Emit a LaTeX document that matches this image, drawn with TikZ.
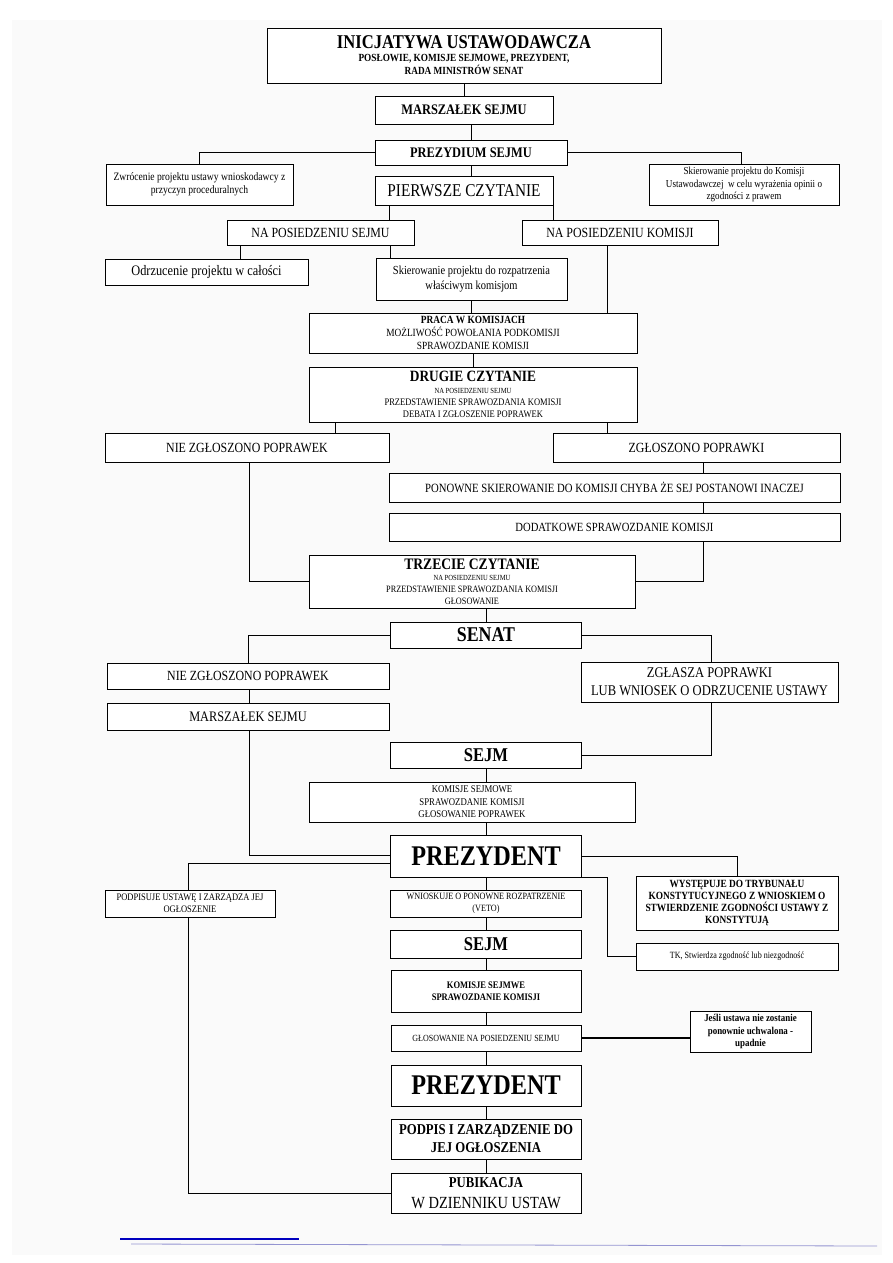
\documentclass[tikz,border=0pt]{standalone}
\usepackage{fontspec}
\setmainfont{Liberation Serif}[FakeStretch=0.85]
\usepackage{tikz}
\usetikzlibrary{calc}
\usetikzlibrary{shadows}
\newcommand{\rozmiar}[1]{\fontsize{#1pt}{\dimexpr #1pt*12/10\relax}\selectfont}
\tikzset{
  ramka/.style={draw,line width=0.9pt,fill=white,align=center,inner sep=1pt,
    drop shadow={shadow xshift=0.9pt,shadow yshift=-0.9pt,fill=black,opacity=1}},
  linia/.style={line width=0.8pt},
}

\begin{document}
\begin{tikzpicture}[x=1pt,y=-1pt]
	\useasboundingbox (0,0) rectangle (893,1263);
	\fill[black!2] (12,20) rectangle (882,1255);
	\draw[blue!40!gray!60,line width=0.8pt] (131,1244) -- (877,1246);
	\draw[blue!75!black,line width=1.8pt] (120,1239) -- (299,1239);

	\node[ramka,minimum width=394pt,minimum height=55pt,font=\rozmiar{10.9}\bfseries] (inicjatywa) at (464,55.5) {{\rozmiar{19.5}INICJATYWA USTAWODAWCZA}\\POSŁOWIE, KOMISJE SEJMOWE, PREZYDENT,\\RADA MINISTRÓW SENAT};
	\node[ramka,minimum width=178pt,minimum height=28pt,font=\rozmiar{14.6}\bfseries] (marszalek) at (464,110) {MARSZAŁEK SEJMU};
	\node[ramka,minimum width=192pt,minimum height=25pt,font=\rozmiar{14.6}\bfseries] (prezydium) at (471,152.5) {PREZYDIUM SEJMU};
	\node[ramka,minimum width=187pt,minimum height=41pt,font=\rozmiar{11.3}] (zwrocenie) at (199.5,184.5) {Zwrócenie projektu ustawy wnioskodawcy z\\przyczyn proceduralnych};
	\node[ramka,minimum width=178pt,minimum height=29pt,font=\rozmiar{18}] (pierwsze) at (464,190.5) {PIERWSZE CZYTANIE};
	\node[ramka,minimum width=190pt,minimum height=41pt,font=\rozmiar{10.7}] (komUst) at (744,184.5) {Skierowanie projektu do Komisji\\Ustawodawczej\ \ w celu wyrażenia opinii o\\zgodności z prawem};
	\node[ramka,minimum width=187pt,minimum height=25pt,font=\rozmiar{14}] (naSejmu) at (320.5,232.5) {NA POSIEDZENIU SEJMU};
	\node[ramka,minimum width=196pt,minimum height=25pt,font=\rozmiar{14}] (naKomisji) at (620,232.5) {NA POSIEDZENIU KOMISJI};
	\node[ramka,minimum width=203pt,minimum height=26pt,font=\rozmiar{14.5}] (odrzucenie) at (206.5,272) {Odrzucenie projektu w całości};
	\node[ramka,minimum width=191pt,minimum height=42pt,font=\rozmiar{12.3}] (skierowanie) at (471.5,279) {Skierowanie projektu do rozpatrzenia\\właściwym komisjom};
	\node[ramka,minimum width=328pt,minimum height=40pt,font=\rozmiar{11}] (praca) at (473,333) {{\bfseries PRACA W KOMISJACH}\\MOŻLIWOŚĆ POWOŁANIA PODKOMISJI\\SPRAWOZDANIE KOMISJI};
	\node[ramka,minimum width=328pt,minimum height=55pt,font=\rozmiar{10}] (drugie) at (473,394.5) {{\rozmiar{15.7}\bfseries DRUGIE CZYTANIE}\\{\rozmiar{7.8}NA POSIEDZENIU SEJMU}\\PRZEDSTAWIENIE SPRAWOZDANIA KOMISJI\\DEBATA I ZGŁOSZENIE POPRAWEK};
	\node[ramka,minimum width=284pt,minimum height=29pt,font=\rozmiar{14}] (nieZgl) at (247,447.5) {NIE ZGŁOSZONO POPRAWEK};
	\node[ramka,minimum width=287pt,minimum height=29pt,font=\rozmiar{14}] (zgl) at (696.5,447.5) {ZGŁOSZONO POPRAWKI};
	\node[ramka,minimum width=451pt,minimum height=29pt,font=\rozmiar{12.6}] (ponowne) at (614.5,487.5) {PONOWNE SKIEROWANIE DO KOMISJI CHYBA ŻE SEJ POSTANOWI INACZEJ};
	\node[ramka,minimum width=451pt,minimum height=28pt,font=\rozmiar{12.5}] (dodatkowe) at (614.5,527) {DODATKOWE SPRAWOZDANIE KOMISJI};
	\node[ramka,minimum width=326pt,minimum height=53pt,font=\rozmiar{9.7}] (trzecie) at (472,581.5) {{\rozmiar{16}\bfseries TRZECIE CZYTANIE}\\{\rozmiar{7.8}NA POSIEDZENIU SEJMU}\\PRZEDSTAWIENIE SPRAWOZDANIA KOMISJI\\GŁOSOWANIE};
	\node[ramka,minimum width=191pt,minimum height=26pt,font=\rozmiar{21}\bfseries] (senat) at (486,635) {SENAT};
	\node[ramka,minimum width=282pt,minimum height=26pt,font=\rozmiar{14}] (nieZglS) at (248,676) {NIE ZGŁOSZONO POPRAWEK};
	\node[ramka,minimum width=257pt,minimum height=40pt,font=\rozmiar{14.8}] (zglasza) at (709.5,682) {ZGŁASZA POPRAWKI\\LUB WNIOSEK O ODRZUCENIE USTAWY};
	\node[ramka,minimum width=282pt,minimum height=27pt,font=\rozmiar{14.5}] (marszalekS) at (248,716.5) {MARSZAŁEK SEJMU};
	\node[ramka,minimum width=191pt,minimum height=26pt,font=\rozmiar{19.5}\bfseries] (sejm) at (486,755) {SEJM};
	\node[ramka,minimum width=326pt,minimum height=40pt,font=\rozmiar{10.3}] (komisjeS) at (472,802) {KOMISJE SEJMOWE\\SPRAWOZDANIE KOMISJI\\GŁOSOWANIE POPRAWEK};
	\node[ramka,minimum width=191pt,minimum height=42pt,font=\rozmiar{28.5}\bfseries] (prezydent) at (486,856) {PREZYDENT};
	\node[ramka,minimum width=170pt,minimum height=27pt,font=\rozmiar{10}] (podpisuje) at (190,903.5) {PODPISUJE USTAWĘ I ZARZĄDZA JEJ\\OGŁOSZENIE};
	\node[ramka,minimum width=191pt,minimum height=27pt,font=\rozmiar{9.6}] (wnioskuje) at (486,903.5) {WNIOSKUJE O PONOWNE ROZPATRZENIE\\(VETO)};
	\node[ramka,minimum width=202pt,minimum height=54pt,font=\fontsize{11pt}{12pt}\selectfont\bfseries] (wystepuje) at (737,903) {WYSTĘPUJE DO TRYBUNAŁU\\KONSTYTUCYJNEGO Z WNIOSKIEM O\\STWIERDZENIE ZGODNOŚCI USTAWY Z\\KONSTYTUJĄ};
	\node[ramka,minimum width=191pt,minimum height=28pt,font=\rozmiar{19.5}\bfseries] (sejm2) at (486,944) {SEJM};
	\node[ramka,minimum width=202pt,minimum height=27pt,font=\rozmiar{9.5}] (tk) at (737,956.5) {TK, Stwierdza zgodność lub niezgodność};
	\node[ramka,minimum width=190pt,minimum height=42pt,font=\rozmiar{10}\bfseries] (komisjeSW) at (486,991) {KOMISJE SEJMWE\\SPRAWOZDANIE KOMISJI};
	\node[ramka,minimum width=190pt,minimum height=26pt,font=\rozmiar{9.4}] (glosowanie) at (486,1038) {GŁOSOWANIE NA POSIEDZENIU SEJMU};
	\node[ramka,minimum width=121pt,minimum height=41pt,font=\rozmiar{10.5}\bfseries] (jesli) at (750.5,1031.5) {Jeśli ustawa nie zostanie\\ponownie uchwalona -\\upadnie};
	\node[ramka,minimum width=190pt,minimum height=41pt,font=\rozmiar{28.5}\bfseries] (prezydent2) at (486,1085.5) {PREZYDENT};
	\node[ramka,minimum width=190pt,minimum height=40pt,font=\rozmiar{15}\bfseries] (podpis) at (486,1139) {PODPIS I ZARZĄDZENIE DO\\JEJ OGŁOSZENIA};
	\node[ramka,minimum width=190pt,minimum height=40pt,font=\rozmiar{17}] (pubikacja) at (486,1193) {{\bfseries\rozmiar{15}PUBIKACJA}\\W DZIENNIKU USTAW};

	\draw[linia] (inicjatywa) -- (marszalek);
	\draw[linia] (prezydium.north) -- (prezydium.north |- marszalek.south);
	\draw[linia] (prezydium.south) -- (prezydium.south |- pierwsze.north);
	\draw[linia] (prezydium.west) -| (zwrocenie.north);
	\draw[linia] (prezydium.east) -| ([xshift=-3pt]komUst.north);
	\draw[linia] ([xshift=15pt]pierwsze.south west) -- ([xshift=15pt]pierwsze.south west |- naSejmu.north);
	\draw[linia] (pierwsze.south east) -- (pierwsze.south east |- naKomisji.north);
	\draw[linia] ([xshift=14pt]naSejmu.south west) -- ([xshift=14pt]naSejmu.south west |- odrzucenie.north);
	\draw[linia] ([xshift=-24pt]naSejmu.south east) -- ([xshift=-24pt]naSejmu.south east |- skierowanie.north);
	\draw[linia] (skierowanie.south) -- (skierowanie.south |- praca.north);
	\draw[linia] ([xshift=-13pt]naKomisji.south) -- ([xshift=-13pt]naKomisji.south |- praca.north);
	\draw[linia] (praca) -- (drugie);
	\draw[linia] ([xshift=27pt]drugie.south west) -- ([xshift=27pt]drugie.south west |- nieZgl.north);
	\draw[linia] ([xshift=-30pt]drugie.south east) -- ([xshift=-30pt]drugie.south east |- zgl.north);
	\draw[linia] ([xshift=6.5pt]zgl.south) -- ([xshift=6.5pt]zgl.south |- ponowne.north);
	\draw[linia] ([xshift=88.5pt]ponowne.south) -- ([xshift=88.5pt]ponowne.south |- dodatkowe.north);
	\draw[linia] ([xshift=2pt]nieZgl.south) |- (trzecie.west);
	\draw[linia] ([xshift=88.5pt]dodatkowe.south) |- (trzecie.east);
	\draw[linia] (senat.north |- trzecie.south) -- (senat.north);
	\draw[linia] (senat.west) -| (nieZglS.north);
	\draw[linia] (senat.east) -| ([xshift=1.5pt]zglasza.north);
	\draw[linia] ([xshift=1pt]nieZglS.south) -- ([xshift=1pt]marszalekS.north);
	\draw[linia] ([xshift=1.5pt]zglasza.south) |- (sejm.east);
	\draw[linia] (sejm.south) -- (sejm.south |- komisjeS.north);
	\draw[linia] (prezydent.north |- komisjeS.south) -- (prezydent.north);
	\draw[linia] ([xshift=1pt]marszalekS.south) |- ([yshift=1pt]prezydent.west);
	\draw[linia] ([yshift=-7pt]prezydent.west) -| ([xshift=-2pt]podpisuje.north);
	\draw[linia] ([xshift=-2pt]podpisuje.south) |- (pubikacja.west);
	\draw[linia] (prezydent.east) -| (wystepuje.north);
	\draw[linia] (prezydent.south east) -| ([xshift=-28pt]tk.west) -- (tk.west);
	\draw[linia] (prezydent) -- (wnioskuje);
	\draw[linia] (wnioskuje) -- (sejm2);
	\draw[linia] (sejm2) -- (komisjeSW);
	\draw[linia] (komisjeSW) -- (glosowanie);
	\draw[line width=1.8pt] (glosowanie.east) -- (glosowanie.east -| jesli.west);
	\draw[linia] (glosowanie) -- (prezydent2);
	\draw[linia] (prezydent2) -- (podpis);
	\draw[linia] (podpis) -- (pubikacja);
\end{tikzpicture}
\end{document}
